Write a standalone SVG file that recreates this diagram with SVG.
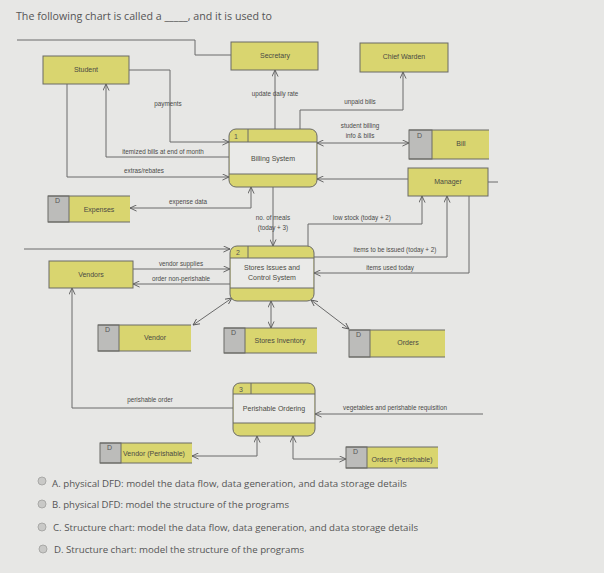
<svg xmlns="http://www.w3.org/2000/svg" width="604" height="573" viewBox="0 0 604 573">
<defs>
<marker id="ah" viewBox="0 0 8 8" refX="7.5" refY="4" markerWidth="7" markerHeight="7" markerUnits="userSpaceOnUse" orient="auto-start-reverse">
<path d="M0,0.5 L7.5,4 L0,7.5" fill="none" stroke="#555" stroke-width="1"/>
</marker>
<style>
.bg{fill:#e7e7e5}
.ent{fill:#d9d56f;stroke:#6a6a66;stroke-width:1}
.dcell{fill:#bcbcba;stroke:#6a6a66;stroke-width:1}
.store{fill:#d9d56f}
.sline{fill:none;stroke:#6a6a66;stroke-width:1}
.pmid{fill:#eaeae8}
.pout{fill:none;stroke:#6a6a66;stroke-width:1}
.py{fill:#d9d56f}
.lbl{font-family:"Liberation Sans",Arial,sans-serif;font-size:7px;fill:#4a4a44;text-anchor:middle}
.sm{font-family:"Liberation Sans",Arial,sans-serif;font-size:6.3px;fill:#4a4a48;text-anchor:middle}
.id{font-family:"Liberation Sans",Arial,sans-serif;font-size:7px;fill:#555}
.q{font-family:"Open Sans","Liberation Sans",sans-serif;fill:#555555}
.c{fill:none;stroke:#6a6a6a;stroke-width:1}
.ca{fill:none;stroke:#6a6a6a;stroke-width:1;marker-end:url(#ah)}
.cb{fill:none;stroke:#6a6a6a;stroke-width:1;marker-end:url(#ah);marker-start:url(#ah)}
.radio{fill:#c9c9c7;stroke:#a9a9a7;stroke-width:1}
</style>
</defs>
<rect class="bg" x="0" y="0" width="604" height="573"/>
<text class="q" x="16" y="20" font-size="11" textLength="256" lengthAdjust="spacingAndGlyphs">The following chart is called a _____, and it is used to</text>

<g id="connectors">
<path class="c" d="M17,40 H195 V55 H231"/>
<path class="ca" d="M275,129 V70"/>
<path class="ca" d="M300,129 V110 H403 V72"/>
<path class="ca" d="M129,70 H170 V142 H229"/>
<path class="ca" d="M229,157 H106 V84"/>
<path class="ca" d="M67,84 V177 H229"/>
<path class="cb" d="M317,143 H409"/>
<path class="ca" d="M408,179 H317"/>
<path class="c" d="M488,182 H498"/>
<path class="cb" d="M130,208 H251 V187"/>
<path class="ca" d="M273,187 V246"/>
<path class="ca" d="M24,249 H230"/>
<path class="ca" d="M308,246 V224 H422 V196"/>
<path class="ca" d="M314,257 H447 V196"/>
<path class="ca" d="M469,196 V273 H314"/>
<path class="ca" d="M133,269 H230"/>
<path class="ca" d="M230,284 H133"/>
<path class="ca" d="M233,408 H72 V288"/>
<path class="cb" d="M232,298 L193,325"/>
<path class="cb" d="M271,301 V328"/>
<path class="cb" d="M311,300 L349,329"/>
<path class="ca" d="M483,414 H315"/>
<path class="cb" d="M257,436 V456 H192"/>
<path class="cb" d="M293,436 V459 H346"/>
<text class="sm" x="168" y="106">payments</text>
<text class="sm" x="275" y="96">update daily rate</text>
<text class="sm" x="360" y="104">unpaid bills</text>
<text class="sm" x="360" y="128">student billing</text>
<text class="sm" x="360" y="138">info &amp; bills</text>
<text class="sm" x="163" y="154">itemized bills at end of month</text>
<text class="sm" x="144" y="173">extras/rebates</text>
<text class="sm" x="188" y="204">expense data</text>
<text class="sm" x="273" y="220">no. of meals</text>
<text class="sm" x="273" y="230">(today + 3)</text>
<text class="sm" x="362" y="220">low stock (today + 2)</text>
<text class="sm" x="395" y="252">items to be issued (today + 2)</text>
<text class="sm" x="390" y="270">items used today</text>
<text class="sm" x="181" y="266">vendor supplies</text>
<text class="sm" x="181" y="281">order non-perishable</text>
<text class="sm" x="150" y="402">perishable order</text>
<text class="sm" x="395" y="410">vegetables and perishable requisition</text>
</g>

<g id="secretary"><rect class="ent" x="231" y="42" width="87" height="28"/><text class="lbl" x="275" y="58">Secretary</text></g>
<g id="chief-warden"><rect class="ent" x="360" y="43" width="88" height="29"/><text class="lbl" x="404" y="59">Chief Warden</text></g>
<g id="student"><rect class="ent" x="43" y="56" width="86" height="28"/><text class="lbl" x="86" y="72">Student</text></g>
<g id="manager"><rect class="ent" x="408" y="168" width="80" height="28"/><text class="lbl" x="448" y="184">Manager</text></g>
<g id="vendors"><rect class="ent" x="49" y="261" width="84" height="27"/><text class="lbl" x="91" y="277">Vendors</text></g>

<g id="billing-system">
<rect class="py" x="229" y="129" width="88" height="58" rx="7"/>
<rect class="pmid" x="229.5" y="142" width="87" height="32"/>
<path class="sline" d="M229,142 H317 M229,174 H317 M248,129 V142"/>
<rect class="pout" x="229" y="129" width="88" height="58" rx="7"/>
<text class="id" x="234" y="139">1</text>
<text class="lbl" x="273" y="161">Billing System</text>
</g>

<g id="stores-issues">
<rect class="py" x="230" y="246" width="84" height="55" rx="7"/>
<rect class="pmid" x="230.5" y="258" width="83" height="30"/>
<path class="sline" d="M230,258 H314 M230,288 H314 M248,246 V258"/>
<rect class="pout" x="230" y="246" width="84" height="55" rx="7"/>
<text class="id" x="236" y="255">2</text>
<text class="lbl" x="272" y="270">Stores Issues and</text>
<text class="lbl" x="272" y="280">Control System</text>
</g>

<g id="perishable-ordering">
<rect class="py" x="233" y="383" width="82" height="53" rx="7"/>
<rect class="pmid" x="233.5" y="394" width="81" height="29"/>
<path class="sline" d="M233,394 H315 M233,423 H315 M251,383 V394"/>
<rect class="pout" x="233" y="383" width="82" height="53" rx="7"/>
<text class="id" x="239" y="392">3</text>
<text class="lbl" x="274" y="411">Perishable Ordering</text>
</g>

<g id="bill">
<rect class="store" x="409" y="130" width="80" height="29"/>
<rect class="dcell" x="409" y="130" width="23" height="29"/>
<path class="sline" d="M409,130 H489 M409,159 H489"/>
<text class="id" x="417" y="138">D</text>
<text class="lbl" x="461" y="146">Bill</text>
</g>
<g id="expenses">
<rect class="store" x="48" y="196" width="82" height="26"/>
<rect class="dcell" x="48" y="196" width="21" height="26"/>
<path class="sline" d="M48,196 H130 M48,222 H130"/>
<text class="id" x="55" y="203">D</text>
<text class="lbl" x="99" y="212">Expenses</text>
</g>
<g id="vendor">
<rect class="store" x="98" y="325" width="93" height="26"/>
<rect class="dcell" x="98" y="325" width="21" height="26"/>
<path class="sline" d="M98,325 H191 M98,351 H191"/>
<text class="id" x="105" y="332">D</text>
<text class="lbl" x="155" y="340">Vendor</text>
</g>
<g id="stores-inventory">
<rect class="store" x="224" y="328" width="93" height="25"/>
<rect class="dcell" x="224" y="328" width="21" height="25"/>
<path class="sline" d="M224,328 H317 M224,353 H317"/>
<text class="id" x="231" y="335">D</text>
<text class="lbl" x="280" y="343">Stores Inventory</text>
</g>
<g id="orders">
<rect class="store" x="349" y="330" width="96" height="27"/>
<rect class="dcell" x="349" y="330" width="21" height="27"/>
<path class="sline" d="M349,330 H445 M349,357 H445"/>
<text class="id" x="356" y="337">D</text>
<text class="lbl" x="408" y="345">Orders</text>
</g>
<g id="vendor-perishable">
<rect class="store" x="100" y="443" width="92" height="20"/>
<rect class="dcell" x="100" y="443" width="21" height="20"/>
<path class="sline" d="M100,443 H192 M100,463 H192"/>
<text class="id" x="107" y="450">D</text>
<text class="lbl" x="154" y="456" font-size="5.8">Vendor (Perishable)</text>
</g>
<g id="orders-perishable">
<rect class="store" x="346" y="447" width="92" height="21"/>
<rect class="dcell" x="346" y="447" width="21" height="21"/>
<path class="sline" d="M346,447 H438 M346,468 H438"/>
<text class="id" x="353" y="454">D</text>
<text class="lbl" x="402" y="462" font-size="5.8">Orders (Perishable)</text>
</g>

<g id="options">
<circle class="radio" cx="42" cy="481" r="4"/>
<circle class="radio" cx="42" cy="504" r="4"/>
<circle class="radio" cx="42" cy="527" r="4"/>
<circle class="radio" cx="43" cy="549" r="4"/>
<text class="q" x="52" y="487" font-size="9.5" textLength="355" lengthAdjust="spacingAndGlyphs">A. physical DFD: model the data flow, data generation, and data storage details</text>
<text class="q" x="52" y="508" font-size="9.5" textLength="237" lengthAdjust="spacingAndGlyphs">B. physical DFD: model the structure of the programs</text>
<text class="q" x="53" y="531" font-size="9.5" textLength="365" lengthAdjust="spacingAndGlyphs">C. Structure chart:  model the data flow, data generation, and data storage details</text>
<text class="q" x="54" y="553" font-size="9.5" textLength="250" lengthAdjust="spacingAndGlyphs">D. Structure chart:   model the structure of the programs</text>
</g>
</svg>
